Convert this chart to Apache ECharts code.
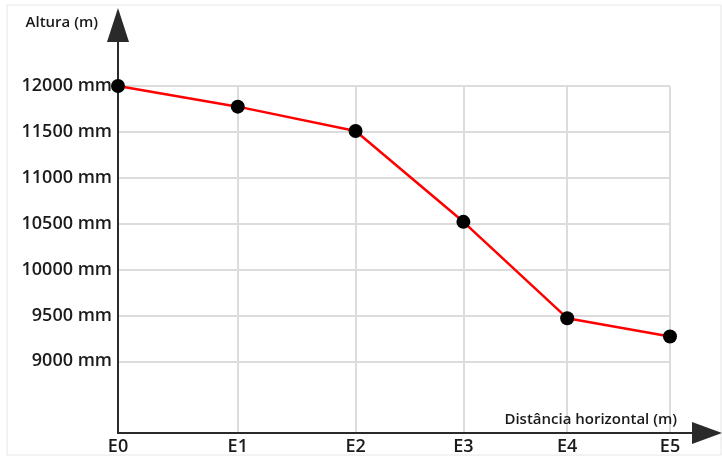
<!DOCTYPE html>
<html>
<head>
<meta charset="utf-8">
<script src="https://cdn.jsdelivr.net/npm/echarts@6/dist/echarts.min.js"></script>
<style>
  html, body { margin: 0; padding: 0; background: #fff; }
  #main { width: 722px; height: 456px; }
</style>
</head>
<body>
<div id="main"></div>
<script>
// estacoes e leituras do perfil
var stations = ['E0', 'E1', 'E2', 'E3', 'E4', 'E5'];
var distance = [0, 12, 23.8, 34.6, 45, 55.3];
var altura = [12000, 11775, 11510, 10520, 9470, 9270]; // mm
var yTicks = [9000, 9500, 10000, 10500, 11000, 11500, 12000];

var chart = echarts.init(document.getElementById('main'));

var font = 'Open Sans';
var axisColor = '#2a2a2a';
var gridColor = '#dcdcdc';

var option = {
    animation: false,
    grid: [
        { left: 118, right: 52, top: 86, bottom: 23 },   // area do grafico
        { left: 118, right: 15, top: 25, bottom: 23 },   // so para os eixos com setas
        { left: 7, right: 1, top: 5, bottom: 1, show: true, borderColor: '#e6e6e6', borderWidth: 1 }
    ],
    xAxis: [
        {
            gridIndex: 0,
            type: 'value',
            min: 0,
            max: distance[distance.length - 1],
            name: 'Distância horizontal (m)',
            nameLocation: 'end',
            nameGap: 7,
            nameTextStyle: {
                fontFamily: font, fontSize: 15, fontWeight: 600, color: '#1a1a1a',
                align: 'right', verticalAlign: 'bottom', padding: [0, 0, 5, 0]
            },
            axisLine: { show: false },
            axisTick: { show: false, customValues: distance },
            axisLabel: {
                customValues: distance,
                margin: 6,
                fontFamily: font, fontSize: 18, fontWeight: 600, color: '#1a1a1a',
                formatter: function (v) {
                    var i = distance.indexOf(v);
                    return i >= 0 ? stations[i] : '';
                }
            },
            splitLine: { show: true, lineStyle: { color: gridColor, width: 2 } }
        },
        {
            gridIndex: 1,
            type: 'value',
            min: 0, max: 1,
            axisLine: {
                show: true, onZero: false,
                lineStyle: { color: axisColor, width: 2 },
                symbol: ['none', 'triangle'],
                symbolSize: [22, 30]
            },
            axisTick: { show: false },
            axisLabel: { show: false },
            splitLine: { show: false }
        }
    ],
    yAxis: [
        {
            gridIndex: 0,
            type: 'value',
            min: 8230,
            max: 12000,
            axisLine: { show: false },
            axisTick: { show: false, customValues: yTicks },
            axisLabel: {
                customValues: yTicks,
                margin: 6,
                fontFamily: font, fontSize: 18, fontWeight: 600, color: '#1a1a1a',
                formatter: function (v) { return v + ' mm'; }
            },
            splitLine: { show: true, lineStyle: { color: gridColor, width: 2 } }
        },
        {
            gridIndex: 1,
            type: 'value',
            min: 0, max: 1,
            name: 'Altura (m)',
            nameLocation: 'end',
            nameGap: 2,
            nameTextStyle: {
                fontFamily: font, fontSize: 15, fontWeight: 600, color: '#1a1a1a',
                align: 'right', verticalAlign: 'middle', padding: [0, 20, 0, 0]
            },
            axisLine: {
                show: true, onZero: false,
                lineStyle: { color: axisColor, width: 2 },
                symbol: ['none', 'triangle'],
                symbolSize: [22, 34]
            },
            axisTick: { show: false },
            axisLabel: { show: false },
            splitLine: { show: false }
        }
    ],
    series: [
        {
            type: 'line',
            xAxisIndex: 0,
            yAxisIndex: 0,
            data: distance.map(function (d, i) { return [d, altura[i]]; }),
            symbol: 'circle',
            symbolSize: 14,
            showAllSymbol: true,
            lineStyle: { color: '#ff0000', width: 2.5 },
            itemStyle: { color: '#000' },
            z: 5
        }
    ]
};

chart.setOption(option);
window.addEventListener('resize', function () { chart.resize(); });
</script>
</body>
</html>
